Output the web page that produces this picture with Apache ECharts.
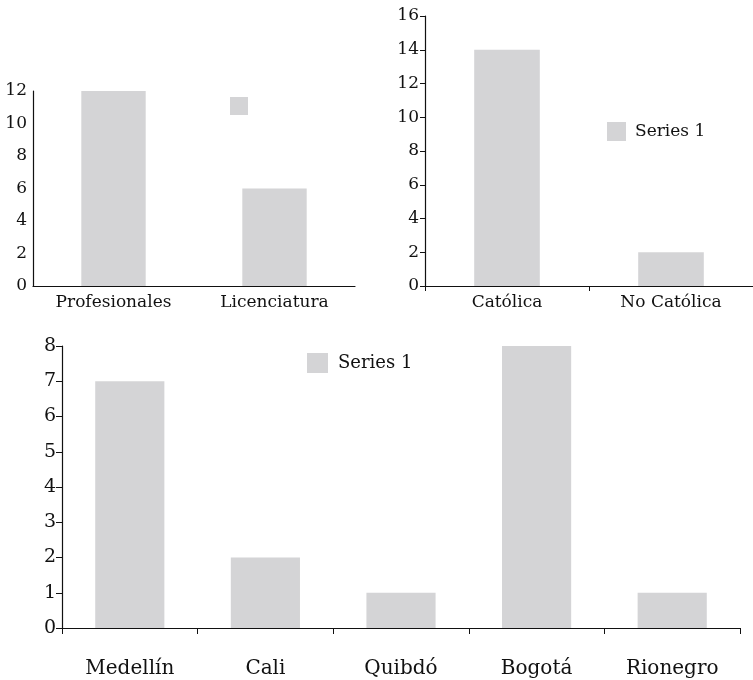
<!DOCTYPE html>
<html>
<head>
<meta charset="utf-8">
<script src="https://cdn.jsdelivr.net/npm/echarts@6/dist/echarts.min.js"></script>
<style>
html,body{margin:0;padding:0;background:#fff;}
#c{width:753px;height:680px;}
</style>
</head>
<body>
<div id="c"></div>
<script>
// Data
const eduCategories = ['Profesionales', 'Licenciatura'];
const eduValues = [12, 6];
const relCategories = ['Católica', 'No Católica'];
const relValues = [14, 2];
const cityCategories = ['Medellín', 'Cali', 'Quibdó', 'Bogotá', 'Rionegro'];
const cityValues = [7, 2, 1, 8, 1];
const seriesName = 'Series 1';

const FONT = 'DejaVu Serif';
const TXT = '#111';
const BAR = '#d4d4d6';
const AX = '#111';

const chart = echarts.init(document.getElementById('c'), null, {renderer: 'canvas'});

function catAxis(idx, data, opts) {
  return Object.assign({
    type: 'category', gridIndex: idx, data: data,
    axisLine: {lineStyle: {color: AX, width: 1.2}},
    axisTick: {show: false},
    axisLabel: {color: TXT, fontFamily: FONT, fontSize: 17, margin: 8}
  }, opts || {});
}
function valAxis(idx, max, interval, opts) {
  return Object.assign({
    type: 'value', gridIndex: idx, min: 0, max: max, interval: interval,
    splitLine: {show: false},
    axisLine: {show: true, lineStyle: {color: AX, width: 1.2}},
    axisTick: {show: false},
    axisLabel: {color: TXT, fontFamily: FONT, fontSize: 17, margin: 6}
  }, opts || {});
}

chart.setOption({
  animation: false,
  backgroundColor: '#fff',
  grid: [
    {left: 33, right: 398, top: 91, bottom: 394},
    {left: 425, right: -2, top: 16, bottom: 394},
    {left: 62, right: 13, top: 346, bottom: 52}
  ],
  legend: [
    {data: [seriesName], left: 230, top: 97, padding: 0, itemWidth: 18, itemHeight: 18, icon: 'rect',
     formatter: function () { return ' '; }, textStyle: {fontFamily: FONT, fontSize: 17}},
    {data: [seriesName], left: 607, top: 122, padding: 0, itemWidth: 19, itemHeight: 19, icon: 'rect',
     textStyle: {color: TXT, fontFamily: FONT, fontSize: 17, padding: [0, 0, 0, 4]}},
    {data: [seriesName], left: 307, top: 353, padding: 0, itemWidth: 21, itemHeight: 20, icon: 'rect',
     textStyle: {color: TXT, fontFamily: FONT, fontSize: 18, padding: [0, 0, 0, 5]}}
  ],
  xAxis: [
    catAxis(0, eduCategories),
    catAxis(1, relCategories, {
      axisTick: {show: true, length: 5, lineStyle: {color: AX}},
      axisLabel: {color: TXT, fontFamily: FONT, fontSize: 17, margin: 8}
    }),
    catAxis(2, cityCategories, {
      axisTick: {show: true, length: 6, lineStyle: {color: AX}},
      axisLabel: {color: TXT, fontFamily: FONT, fontSize: 20, margin: 31}
    })
  ],
  yAxis: [
    valAxis(0, 12, 2),
    valAxis(1, 16, 2, {axisTick: {show: true, length: 5, lineStyle: {color: AX}}}),
    valAxis(2, 8, 1, {
      axisTick: {show: true, length: 6, lineStyle: {color: AX}},
      axisLabel: {color: TXT, fontFamily: FONT, fontSize: 19, margin: 6}
    })
  ],
  series: [
    {name: seriesName, type: 'bar', xAxisIndex: 0, yAxisIndex: 0, data: eduValues,
     barWidth: '40%', itemStyle: {color: BAR}},
    {name: seriesName, type: 'bar', xAxisIndex: 1, yAxisIndex: 1, data: relValues,
     barWidth: '40%', itemStyle: {color: BAR}},
    {name: seriesName, type: 'bar', xAxisIndex: 2, yAxisIndex: 2, data: cityValues,
     barWidth: '51%', itemStyle: {color: BAR}}
  ]
});
</script>
</body>
</html>
